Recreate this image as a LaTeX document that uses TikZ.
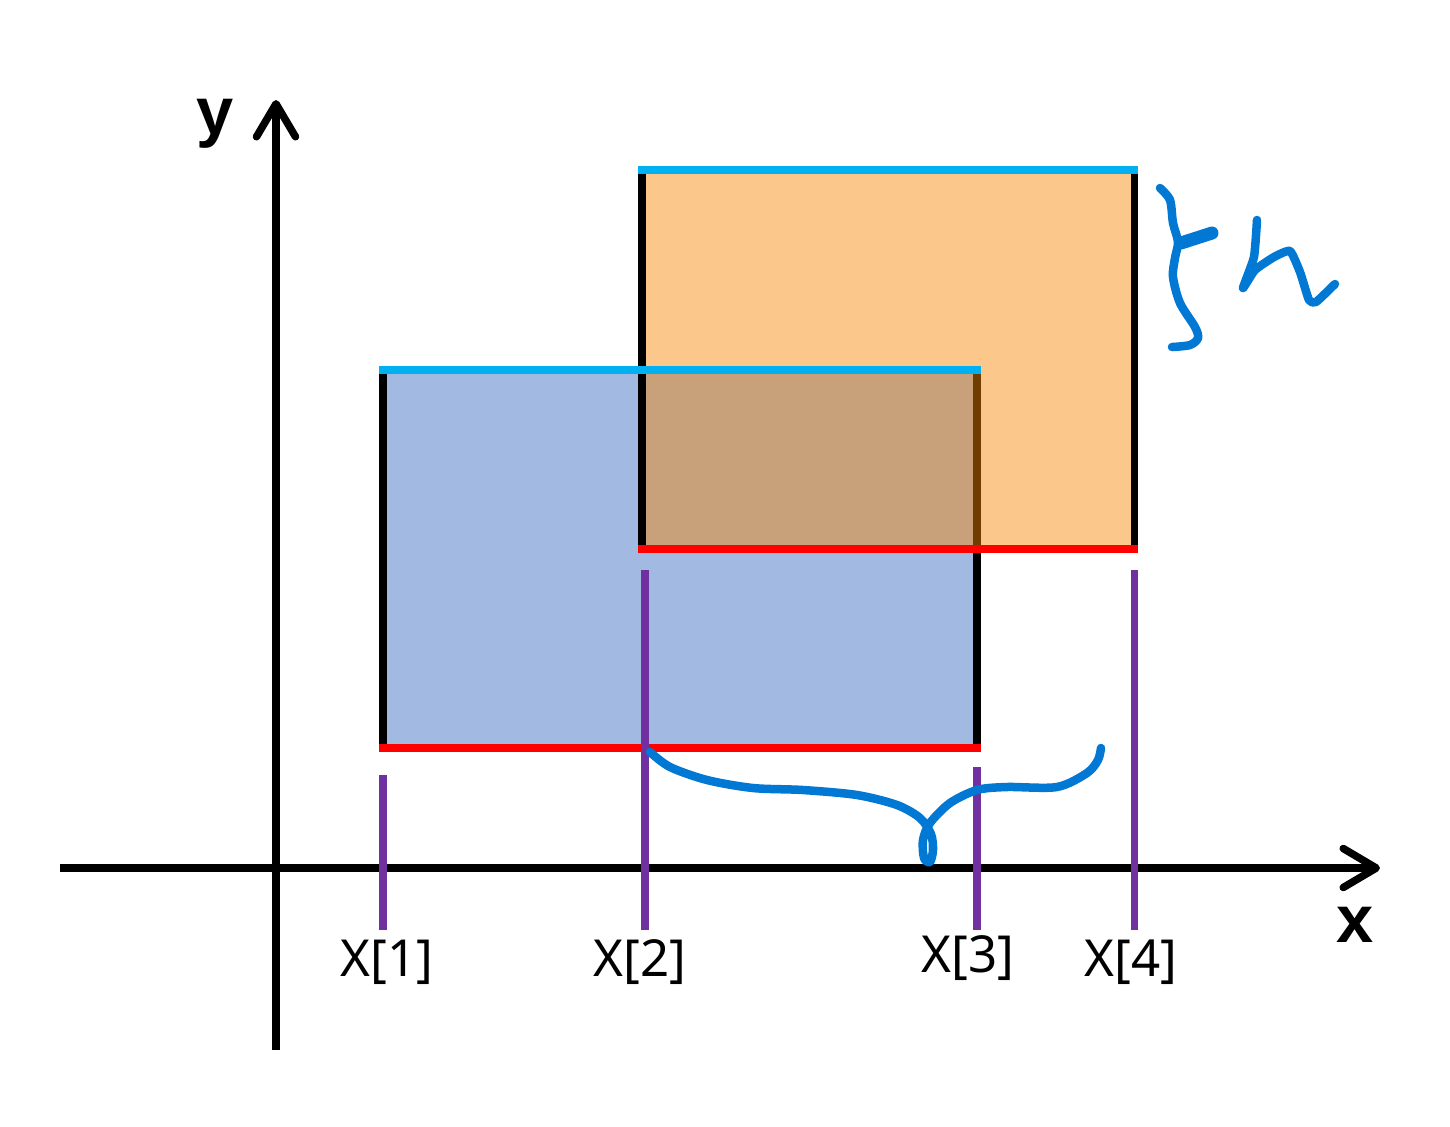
\documentclass[tikz,border=0pt]{standalone}
\usepackage{fontspec}
\setmainfont{Noto Sans}
\newfontfamily\axisfont{Liberation Sans}
\usetikzlibrary{arrows.meta}
\definecolor{topline}{RGB}{0,176,240}
\definecolor{botline}{RGB}{255,0,0}
\definecolor{tickline}{RGB}{112,48,160}
\definecolor{boxa}{RGB}{162,185,225}
\definecolor{boxb}{RGB}{246,134,2}
\definecolor{inkline}{RGB}{0,120,212}

\begin{document}
\begin{tikzpicture}[x=0.01cm,y=-0.01cm,
   axis/.style={line width=0.075cm,-{Straight Barb[length=3.3mm,width=3.9mm,round]}},
   side/.style={line width=0.07cm},
   edge/.style={line width=0.08cm,line cap=rect},
   tick/.style={draw=tickline,line width=0.07cm},
   lbl/.style={font=\fontsize{14.5}{17}\selectfont,inner sep=0pt},
   axlbl/.style={font=\axisfont\bfseries\fontsize{19}{22}\selectfont,inner sep=0pt},
   ink/.style={draw=inkline,line width=0.085cm,line cap=round,line join=round}]
\useasboundingbox (0,0) rectangle (1450,1126);

% corners of the two boxes
\coordinate (a1) at (383,370);
\coordinate (a2) at (977,748);
\coordinate (b1) at (642,170);
\coordinate (b2) at (1134,549);

% first box
\fill[boxa] (a1) rectangle (a2);
\draw[side] (a1) -- (a1 |- a2);
\draw[side] (a2 |- a1) -- (a2);

% second box, see-through
\fill[boxb,fill opacity=0.46] (b1) rectangle (b2);
\draw[side] (b1) -- (b1 |- b2);
\draw[side] (b2 |- b1) -- (b2);

% top and bottom edges
\draw[edge,topline] (a1) -- (a2 |- a1);
\draw[edge,topline] (b1) -- (b2 |- b1);
\draw[edge,botline] (a1 |- a2) -- (a2);
\draw[edge,botline] (b1 |- b2) -- (b2);

% axes
\coordinate (o) at (276,868);
\draw[axis] (60,868) -- (1380,868);
\draw[axis] (276,1050) -- (276,100);
\node[axlbl] (ylbl) at (215,124) {y};
\node[axlbl] (xlbl) at (1355,925) {x};

% ticks and labels
\draw[tick] (383,775) -- (383,930);
\draw[tick] (645,570) -- (645,930);
\draw[tick] (977,767) -- (977,930);
\draw[tick] (1134,570) -- (1134,930);
\node[lbl] (x1) at (387,962) {X[1]};
\node[lbl] (x2) at (640,962) {X[2]};
\node[lbl] (x3) at (968,958) {X[3]};
\node[lbl] (x4) at (1131,962) {X[4]};

% hand-drawn braces
\draw[ink] plot[smooth,tension=0.5] coordinates {(650,752) (670,767) (707,780) (753,788)
   (803,790) (857,795) (897,805) (920,818) (931,834) (933,850) (930,862) (924,858)
   (923,840) (930,823) (950,803) (977,790) (1007,787) (1057,787) (1087,773) (1098,760) (1101,748)};
\draw[ink] plot[smooth,tension=0.5] coordinates {(1160,188) (1170,200) (1173,223) (1178,242)
   (1175,258) (1173,277) (1180,303) (1195,327) (1198,338) (1190,345) (1172,347)};
\draw[ink,line width=0.13cm] (1181,243) -- (1212,233);
\draw[ink] plot[smooth,tension=0.3] coordinates {(1257,220) (1254,257) (1243,288)
   (1255,270) (1274,257) (1290,251) (1300,272) (1309,300) (1316,302) (1335,284)};
\end{tikzpicture}
\end{document}
